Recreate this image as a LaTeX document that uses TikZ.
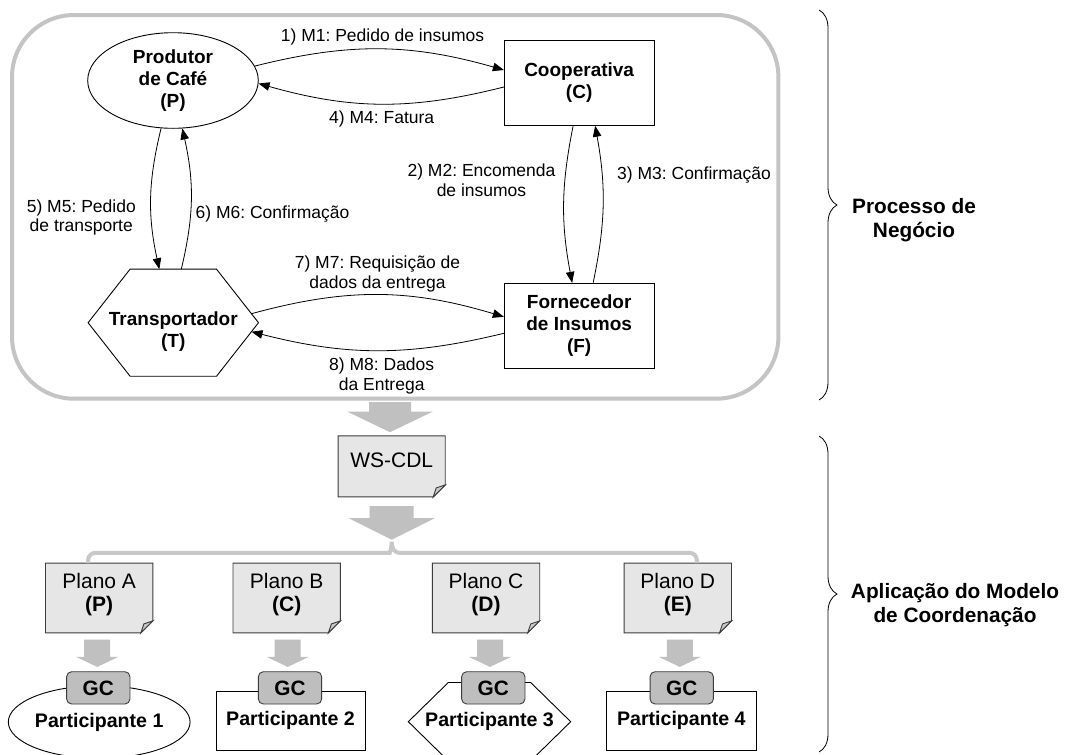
\documentclass[tikz,border=0pt]{standalone}
\usepackage{fontspec}
\setmainfont{Liberation Sans}
\usetikzlibrary{arrows.meta,shapes.geometric,decorations.pathreplacing,calc}
\frenchspacing

\definecolor{framegray}{HTML}{C4C4C4}
\definecolor{blockgray}{HTML}{C0C0C0}
\definecolor{bracketgray}{HTML}{C8C8C8}
\definecolor{docfill}{HTML}{E6E6E6}
\definecolor{flapfill}{HTML}{C8C8C8}
\definecolor{gcfill}{HTML}{BEBEBE}
\definecolor{edgegray}{HTML}{3C3C3C}

\newcommand\msgfont{\fontsize{17.5}{19.5}\selectfont}
\newcommand\actorfont{\bfseries\fontsize{19}{22}\selectfont}
\newcommand\planfont{\fontsize{21}{23}\selectfont}
\newcommand\partfont{\bfseries\fontsize{19.6}{23}\selectfont}
\newcommand\gcfont{\bfseries\fontsize{20.8}{23}\selectfont}
\newcommand\sidefont{\bfseries\fontsize{20.8}{24}\selectfont}

% document page with a folded bottom-right corner around an empty node
\newcommand\docframe[1]{%
  \draw[docline, fill=docfill] (#1.north west) -- (#1.north east)
    -- ([yshift=12pt]#1.south east) -- ([xshift=-12pt]#1.south east)
    -- (#1.south west) -- cycle;
  \draw[docline, fill=flapfill] ([yshift=12pt]#1.south east)
    -- ([xshift=-12pt]#1.south east) -- ([xshift=-9pt,yshift=9pt]#1.south east) -- cycle;}

% wide grey block arrow hanging below a point:
% #1 point, #2 gap, #3 shaft length, #4 head length, #5 half shaft, #6 half head
\newcommand\blockarrow[6]{%
  \fill[blockgray] ($#1+(-#5,#2)$) -- ($#1+(#5,#2)$) -- ($#1+(#5,#2+#3)$)
    -- ($#1+(#6,#2+#3)$) -- ($#1+(0,#2+#3+#4)$) -- ($#1+(-#6,#2+#3)$)
    -- ($#1+(-#5,#2+#3)$) -- cycle;}

\begin{document}
\begin{tikzpicture}[x=1pt,y=-1pt,
  actor/.style={draw=black, line width=0.9pt, fill=white, align=center, font=\actorfont, inner sep=0pt},
  partbox/.style={draw=black, line width=0.9pt, fill=white, align=center, font=\partfont, inner sep=0pt},
  msg/.style={line width=0.8pt, -{Triangle[length=11pt,width=8.5pt]}},
  msglabel/.style={align=center, font=\msgfont, inner sep=0pt},
  sidelabel/.style={align=center, font=\sidefont, inner sep=0pt},
  docbox/.style={minimum width=107pt, minimum height=69.4pt, inner sep=0pt},
  docline/.style={draw=edgegray, line width=0.9pt},
  plantext/.style={align=center, font=\planfont, inner sep=0pt},
  gcbox/.style={draw=edgegray, line width=0.9pt, fill=gcfill, rounded corners=5pt,
    minimum width=63.3pt, minimum height=32.3pt, font=\gcfont, inner sep=0pt},
  sidebrace/.style={draw=black, line width=0.8pt, decorate, decoration={brace, amplitude=18pt}},
  bracket/.style={draw=bracketgray, line width=4pt},
  hexline/.style={draw=black, line width=0.9pt, fill=white}]

\useasboundingbox (0,0) rectangle (1066,755);
\fill[white] (0,0) rectangle (1066,755);

% ---------- business process ----------
\node[draw=framegray, line width=4pt, rounded corners=62pt,
      minimum width=766.4pt, minimum height=383.7pt] (frame) at (395.2,206.85) {};

\node[actor, ellipse, minimum width=170.6pt, minimum height=95.6pt] (P) at (173,80.5)
  {Produtor\\de Café\\(P)};
\node[actor, rectangle, minimum width=149.7pt, minimum height=84.6pt] (C) at (579.15,83)
  {Cooperativa\\(C)};
\node[actor, rectangle, minimum width=149.7pt, minimum height=85pt] (F) at (579.15,325.8)
  {Fornecedor\\de Insumos\\(F)};

\node[minimum width=170pt, minimum height=106.7pt, inner sep=0pt] (T) at (173.3,322.7) {};
\draw[hexline] (T.west) -- ([xshift=42pt]T.north west) -- ([xshift=-42pt]T.north east)
  -- (T.east) -- ([xshift=-42pt]T.south east) -- ([xshift=42pt]T.south west) -- cycle;
\node[font=\actorfont, align=center, inner sep=0pt] (Tt) at ([yshift=-9pt]T.center)
  {Transportador\\(T)};

% messages
\draw[msg] (P.10) to[bend left=15] ([yshift=13pt]C.west);
\draw[msg] ([yshift=-4pt]C.west) to[bend left=15] (P.-2);
\draw[msg] ([xshift=-6pt]C.south) to[bend right=11] ([xshift=-7pt]F.north);
\draw[msg] ([xshift=14pt]F.north) to[bend right=11] ([xshift=16pt]C.south);
\draw[msg] (P.256) to[bend right=13] ([xshift=-14pt]T.north);
\draw[msg] ([xshift=8pt]T.north) to[bend right=13] (P.281);
\draw[msg] ([xshift=-7pt,yshift=9pt]T.east) to[bend left=16] ([yshift=9pt]F.west);
\draw[msg] ([yshift=-7.5pt]F.west) to[bend left=14] ([xshift=-7pt,yshift=-9pt]T.east);

\node[msglabel] (m1) at (382.5,37) {1) M1: Pedido de insumos};
\node[msglabel] (m4) at (381.7,119) {4) M4: Fatura};
\node[msglabel] (m2) at (481.5,180) {2) M2: Encomenda\\de insumos};
\node[msglabel] (m3) at (694,175.5) {3) M3: Confirmação};
\node[msglabel] (m5) at (81.3,217.5) {5) M5: Pedido\\de transporte};
\node[msglabel] (m6) at (272.5,214) {6) M6: Confirmação};
\node[msglabel] (m7) at (377.5,274) {7) M7: Requisição de\\dados da entrega};
\node[msglabel] (m8) at (381.7,376) {8) M8: Dados\\da Entrega};

% ---------- choreography ----------
\blockarrow{([xshift=-5.2pt]frame.south)}{1.5}{9.3}{20.7}{21}{43}

\node[minimum width=106.7pt, minimum height=60.7pt, inner sep=0pt] (ws) at (391.7,466.35) {};
\docframe{ws}
\node[font=\planfont, inner sep=0pt] (wst) at ([yshift=6pt]ws.center) {WS-CDL};

\blockarrow{(ws.south)}{9.3}{12}{21.5}{22}{43}

% plans
\node[docbox] (Pa) at (99.2,598) {};
\node[docbox] (Pb) at (286.7,598) {};
\node[docbox] (Pc) at (486,598) {};
\node[docbox] (Pd) at (677.8,598) {};
\docframe{Pa}\docframe{Pb}\docframe{Pc}\docframe{Pd}
\node[plantext] (Pat) at ([yshift=3pt]Pa.center) {Plano A\\\textbf{(P)}};
\node[plantext] (Pbt) at ([yshift=3pt]Pb.center) {Plano B\\\textbf{(C)}};
\node[plantext] (Pct) at ([yshift=3pt]Pc.center) {Plano C\\\textbf{(D)}};
\node[plantext] (Pdt) at ([yshift=3pt]Pd.center) {Plano D\\\textbf{(E)}};

% grey bracket spreading the choreography over the plans
\coordinate (bl) at ([xshift=-11pt]Pa.north);
\coordinate (br) at ([xshift=19pt]Pd.north);
\coordinate (bt) at ($(ws.south)+(0,45)$);
\coordinate (hl) at ($(bt)+(0,11)$);
\draw[bracket] (bl) [rounded corners=7pt] -- (bl |- hl) -- ($(hl)+(-9,0)$) [sharp corners]
  .. controls ($(hl)+(-2,0)$) and ($(bt)+(0,6)$) .. (bt)
  .. controls ($(bt)+(0,6)$) and ($(hl)+(2,0)$) .. ($(hl)+(9,0)$)
  [rounded corners=7pt] -- (br |- hl) -- (br);

% plan to participant arrows
\blockarrow{([xshift=-2pt]Pa.south)}{6.6}{17.4}{10}{13}{21}
\blockarrow{([xshift=1pt]Pb.south)}{6.6}{17.4}{10}{13}{21}
\blockarrow{([xshift=4pt]Pc.south)}{6.6}{17.4}{10}{13}{21}
\blockarrow{([xshift=2pt]Pd.south)}{6.6}{17.4}{10}{13}{21}

% participants
\node[partbox, ellipse, minimum width=175pt, minimum height=72.6pt] (pa1) at (99.2,722) {Participante 1};
\node[partbox, rectangle, minimum width=149pt, minimum height=58.3pt] (pa2) at (290.5,720.85) {Participante 2};
\node[minimum width=162pt, minimum height=78pt, inner sep=0pt] (H3) at (489.5,721.7) {};
\draw[hexline] (H3.west) -- ([xshift=40pt]H3.north west) -- ([xshift=-40pt]H3.north east)
  -- (H3.east) -- ([xshift=-40pt]H3.south east) -- ([xshift=40pt]H3.south west) -- cycle;
\node[font=\partfont, inner sep=0pt] (pa3) at (H3.center) {Participante 3};
\node[partbox, rectangle, minimum width=149.3pt, minimum height=58.3pt] (pa4) at (681.3,720.85) {Participante 4};

\node[gcbox] (ga) at (98.3,687.85) {GC};
\node[gcbox] (gb) at (290,687.85) {GC};
\node[gcbox] (gc) at (493.3,687.85) {GC};
\node[gcbox] (gd) at (681.7,687.85) {GC};

% ---------- side braces ----------
\coordinate (b1a) at (819,10);
\coordinate (b1b) at (819,400);
\coordinate (b2a) at (819,436);
\coordinate (b2b) at (819,752);
\draw[sidebrace] (b1a) -- (b1b);
\draw[sidebrace] (b2a) -- (b2b);
\node[sidelabel] (proc) at (914,220) {Processo de\\Negócio};
\node[sidelabel] (aplic) at (955,605) {Aplicação do Modelo\\de Coordenação};

\end{tikzpicture}
\end{document}
